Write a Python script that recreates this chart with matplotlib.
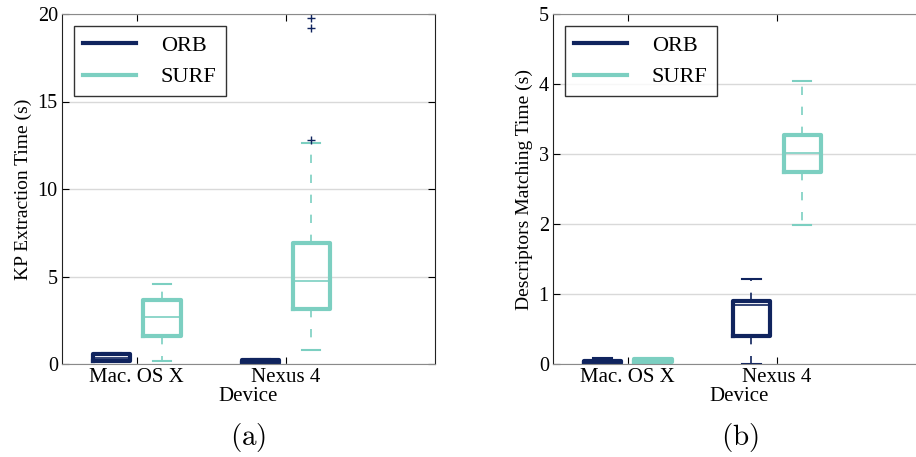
import numpy as np
import matplotlib.pyplot as plt

plt.rcParams['font.family'] = ['Liberation Serif', 'DejaVu Serif']
plt.rcParams['mathtext.fontset'] = 'cm'

devices = ['Mac. OS X', 'Nexus 4']
methods = ['ORB', 'SURF']
colors = {'ORB': '#10245e', 'SURF': '#7ccfc1'}

# (a) keypoint extraction time: whislo, q1, med, q3, whishi per device
kp_orb = [[0.15, 0.17, 0.35, 0.57, 0.62], [0.02, 0.05, 0.12, 0.23, 0.26]]
kp_surf = [[0.17, 1.58, 2.7, 3.66, 4.55], [0.78, 3.12, 4.72, 6.93, 12.61]]
kp_orb_fliers = [[], []]
kp_surf_fliers = [[], [12.78, 19.18, 19.79]]

# (b) descriptor matching time
dm_orb = [[0.0, 0.01, 0.03, 0.05, 0.086], [0.0, 0.40, 0.84, 0.895, 1.22]]
dm_surf = [[0.03, 0.035, 0.05, 0.065, 0.07], [1.99, 2.75, 3.02, 3.276, 4.05]]
dm_orb_fliers = [[], []]
dm_surf_fliers = [[], []]

offset = 0.17
width = 0.25


def stats(rows, fliers):
    out = []
    for r, f in zip(rows, fliers):
        out.append(dict(whislo=r[0], q1=r[1], med=r[2], q3=r[3], whishi=r[4], fliers=f))
    return out


def draw(ax, orb, surf, orb_fl, surf_fl, ymax, ylabel, tag):
    x = np.arange(1, len(devices) + 1)
    for name, rows, fl, pos in [('ORB', orb, orb_fl, x - offset), ('SURF', surf, surf_fl, x + offset)]:
        c = colors[name]
        ax.bxp(stats(rows, fl), positions=pos, widths=width, manage_ticks=False,
               boxprops=dict(color=c, linewidth=3),
               medianprops=dict(color=c, linewidth=1.2),
               whiskerprops=dict(color=c, linewidth=1.2, linestyle=(0, (5, 7))),
               capprops=dict(color=c, linewidth=1.5),
               flierprops=dict(marker='+', markeredgecolor='#10245e', markersize=6, linestyle='none'))
        ax.plot([], [], color=c, linewidth=3, label=name)
    ax.set_xlim(0.5, 3)
    ax.set_ylim(0, ymax)
    ax.set_xticks(x)
    ax.set_xticklabels(devices, fontsize=15)
    ax.tick_params(axis='y', labelsize=14.5, direction='in', right=True, length=5, pad=3)
    ax.tick_params(axis='x', direction='in', top=True, length=5, pad=3)
    ax.yaxis.grid(True, color='#d9d9d9', linewidth=1)
    ax.set_axisbelow(True)
    ax.spines['top'].set_color('#8a8a8a')
    ax.spines['bottom'].set_color('#8a8a8a')
    ax.spines['left'].set_color('#222222')
    ax.spines['right'].set_color('#222222')
    ax.set_xlabel('Device', fontsize=15, labelpad=0)
    ax.set_ylabel(ylabel, fontsize=14)
    leg = ax.legend(loc='upper left', fontsize=16, handlelength=2.4, fancybox=False,
                    borderpad=0.4, handletextpad=1.1, borderaxespad=0.55)
    leg.get_frame().set_edgecolor('black')
    leg.get_frame().set_linewidth(1)
    ax.text(0.5, -0.21, tag, transform=ax.transAxes, ha='center', va='center', fontsize=21)


fig = plt.figure(figsize=(9.16, 4.57), dpi=100)
ax1 = fig.add_axes([62 / 916, 1 - 364 / 457, 373 / 916, 350 / 457])
ax2 = fig.add_axes([553 / 916, 1 - 364 / 457, 373 / 916, 350 / 457])

draw(ax1, kp_orb, kp_surf, kp_orb_fliers, kp_surf_fliers, 20, 'KP Extraction Time (s)', r'$\mathrm{(a)}$')
ax1.set_yticks([0, 5, 10, 15, 20])
draw(ax2, dm_orb, dm_surf, dm_orb_fliers, dm_surf_fliers, 5, 'Descriptors Matching Time (s)', r'$\mathrm{(b)}$')
ax2.set_yticks([0, 1, 2, 3, 4, 5])

fig.savefig('out.png', dpi=100)
